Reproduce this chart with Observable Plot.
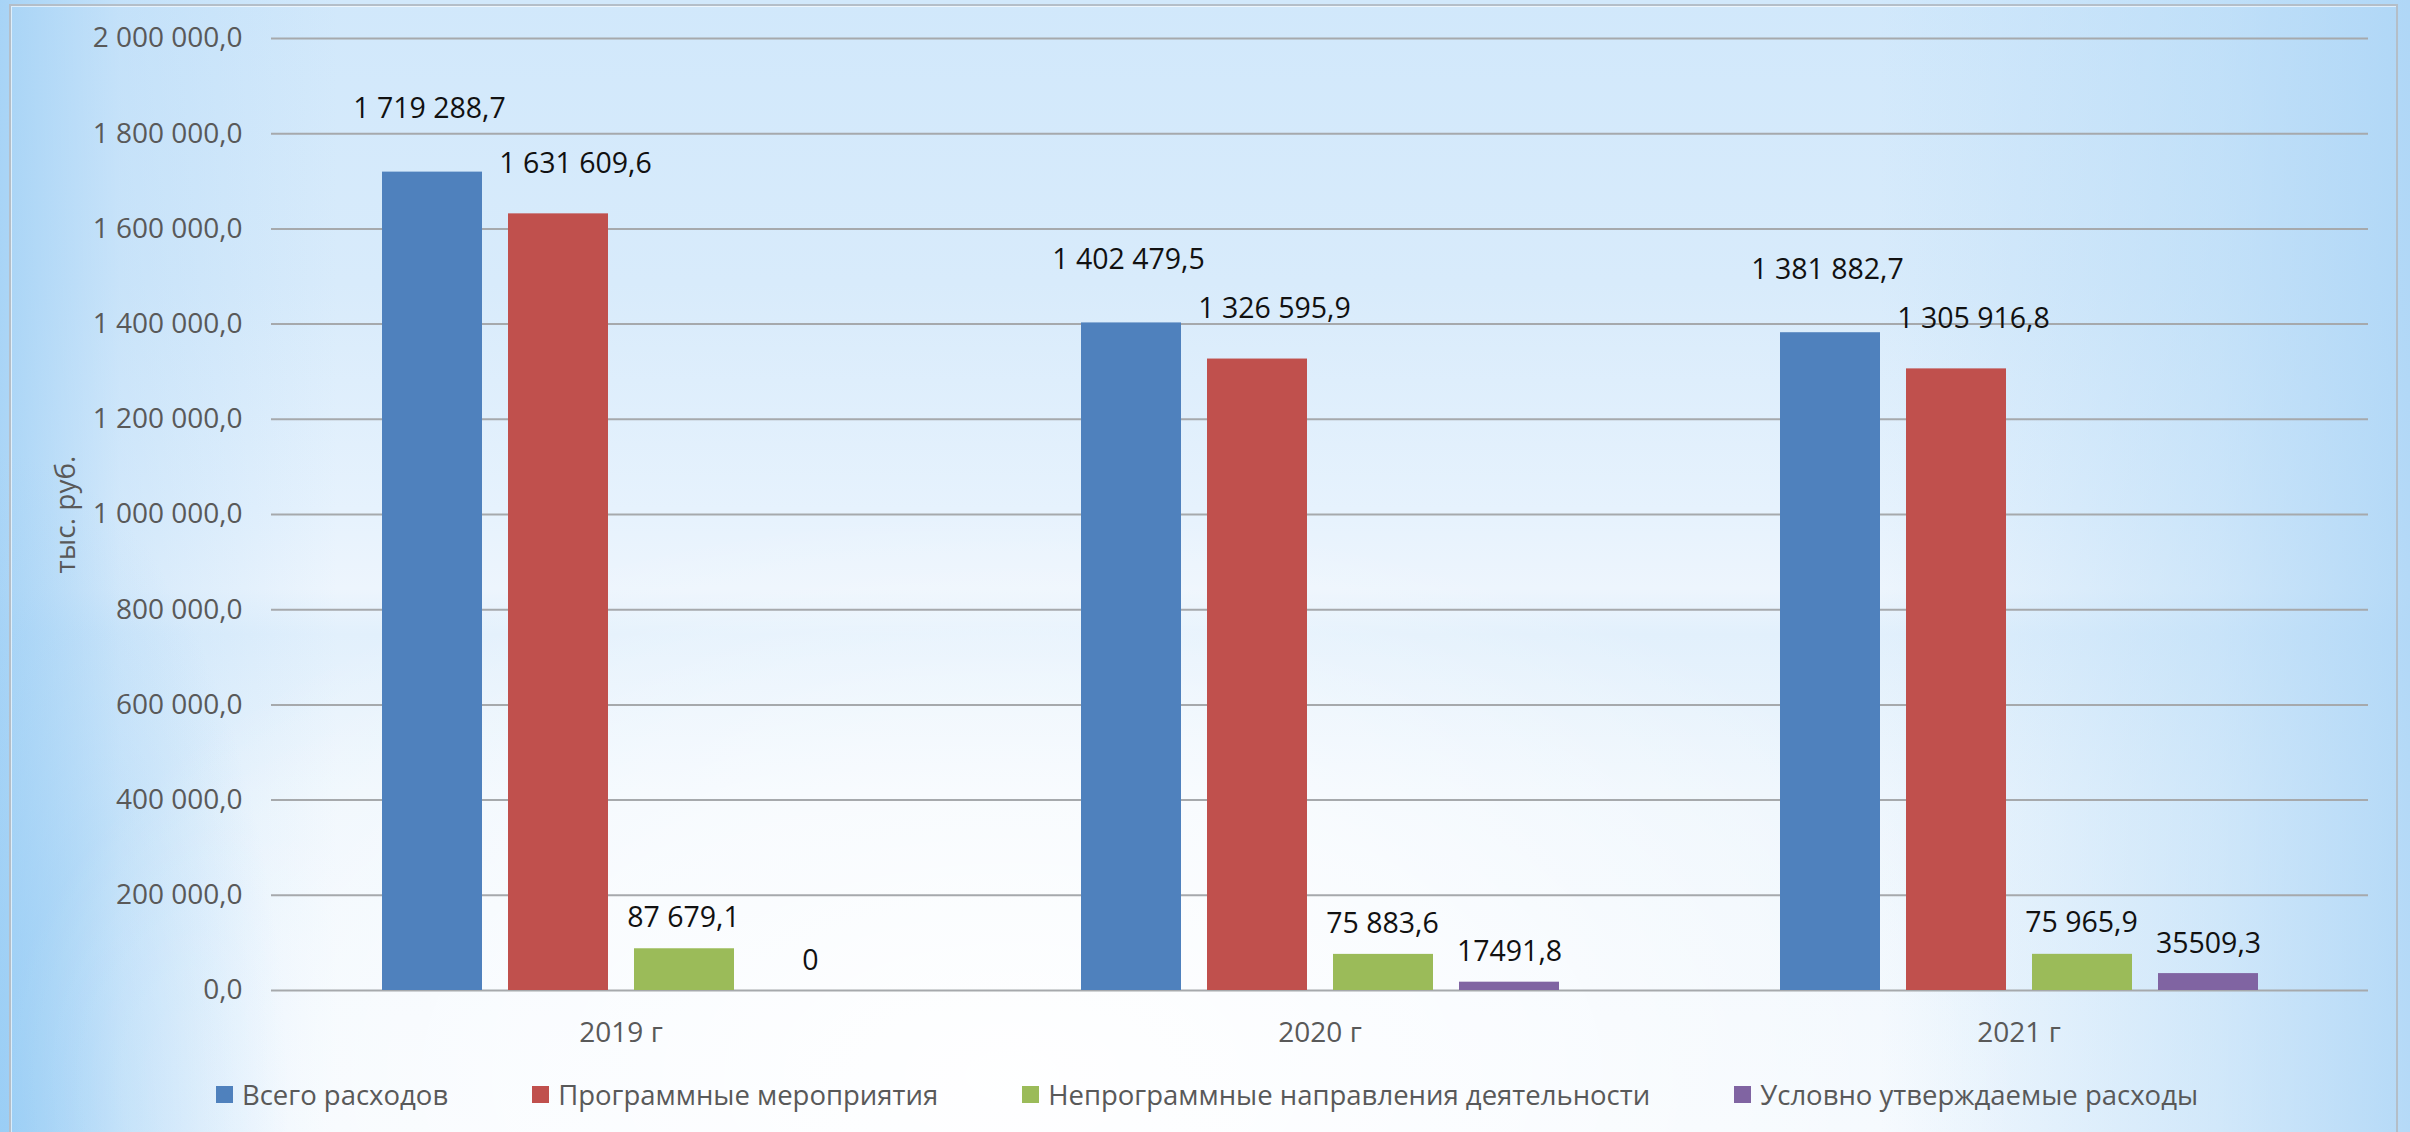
<!DOCTYPE html>
<html>
<head>
<meta charset="utf-8">
<script src="https://cdn.jsdelivr.net/npm/d3@7"></script>
<script src="https://cdn.jsdelivr.net/npm/@observablehq/plot@0.6"></script>
<style>
html, body { margin: 0; padding: 0; }
body {
  width: 2410px; height: 1132px; overflow: hidden; position: relative;
  background:
    radial-gradient(ellipse 42% 50% at 42% 95%, rgba(255,255,255,0.95) 0%, rgba(255,255,255,0.6) 50%, rgba(255,255,255,0) 100%),
    radial-gradient(ellipse 12% 60% at 0% 100%, rgba(150,204,245,0.8) 0%, rgba(150,204,245,0) 100%),
    linear-gradient(to right, rgba(160,208,245,0.85) 0%, rgba(170,212,246,0.35) 5%, rgba(170,212,246,0) 14%, rgba(170,212,246,0) 78%, rgba(175,215,246,0.5) 92%, rgba(170,212,246,0.85) 100%),
    linear-gradient(to bottom, #d1e8fb 0%, #d8ebfb 25%, #e6f2fd 45%, #edf5fd 52%, #e2f0fc 56%, #eef6fd 70%, #f4f9fe 100%);
}
#frame { position: absolute; left: 9px; top: 4px; width: 2385px; height: 1200px;
  border: 2px solid #b4bec8; box-shadow: inset 1px 1px 0 rgba(255,255,255,0.6); pointer-events: none; }
#chart { position: absolute; left: 0; top: 0; }
#legend { position: absolute; left: 0; top: 1076px; width: 2410px; display: flex; justify-content: center; }
#legend .lg-swatches { font-family: "Open Sans", sans-serif; font-size: 27.5px; color: #595959; margin: 0 0 0 4px; }
#legend .lg-swatch { margin-right: 84px; }
#legend .lg-swatch:last-child { margin-right: 0; }
#legend .lg-swatch > svg { margin-right: 9px; }
</style>
</head>
<body>
<div id="frame"></div>
<div id="chart"></div>
<div id="legend"></div>
<script>
// ---- data ----
const years = ["2019 г", "2020 г", "2021 г"];
const seriesNames = [
  "Всего расходов",
  "Программные мероприятия",
  "Непрограммные направления деятельности",
  "Условно утверждаемые расходы"
];
const totalExpenses       = [1719288.7, 1402479.5, 1381882.7];
const programExpenses     = [1631609.6, 1326595.9, 1305916.8];
const nonProgramExpenses  = [87679.1, 75883.6, 75965.9];
const conditionalExpenses = [0, 17491.8, 35509.3];
const seriesColors = ["#4f81bd", "#c0504d", "#9bbb59", "#8064a2"];
const yTicks = [0, 200000, 400000, 600000, 800000, 1000000, 1200000, 1400000, 1600000, 1800000, 2000000];
const yTitle = "тыс. руб.";

// ---- table ----
const seriesValues = [totalExpenses, programExpenses, nonProgramExpenses, conditionalExpenses];
const rows = [];
years.forEach((year, i) => {
  seriesNames.forEach((series, k) => {
    rows.push({year, series, k, value: seriesValues[k][i]});
  });
});

const ru = d3.formatLocale({decimal: ",", thousands: " ", grouping: [3], currency: ["", ""]});
const fmtGrouped = ru.format(",.1f");
const fmtPlain = ru.format(".1f");
const labelText = d => d.k === 3 ? (d.value === 0 ? "0" : fmtPlain(d.value)) : fmtGrouped(d.value);

// per-series label placement (style)
const labelShift = [
  {dx: -3, dy: -63},
  {dx: 17, dy: -50},
  {dx: -1, dy: -31},
  {dx: 0, dy: -30}
];

const font = "'Open Sans', sans-serif";

const chart = Plot.plot({
  width: 2410,
  height: 1060,
  marginLeft: 271,
  marginRight: 42,
  marginTop: 38,
  marginBottom: 70,
  style: {background: "transparent", fontFamily: font, fontSize: "28px", color: "#595959", overflow: "visible"},
  fx: {domain: years, padding: 0, label: null, axis: null},
  x: {domain: seriesNames, paddingInner: 0.21, paddingOuter: 0.868, axis: null},
  y: {domain: [0, 2000000], label: null},
  color: {domain: seriesNames, range: seriesColors},
  marks: [
    Plot.gridY(yTicks, {stroke: "#a6a9ac", strokeOpacity: 1, strokeWidth: 2}),
    Plot.axisY(yTicks, {
      tickSize: 0, tickPadding: 29, tickFormat: fmtGrouped,
      label: yTitle, labelAnchor: "center", labelOffset: 216, labelArrow: "none"
    }),
    Plot.axisFx({anchor: "bottom", tickSize: 0, tickPadding: 32, label: null}),
    Plot.barY(rows, {fx: "year", x: "series", y: "value", fill: "series"}),
    ...seriesNames.map((s, k) => Plot.text(rows, {
      filter: d => d.k === k,
      fx: "year", x: "series", y: "value",
      text: labelText,
      dx: labelShift[k].dx, dy: labelShift[k].dy,
      fill: "#111", fontSize: 28.5
    }))
  ]
});
document.getElementById("chart").appendChild(chart);

const legend = Plot.legend({
  color: {domain: seriesNames, range: seriesColors},
  legend: "swatches",
  swatchSize: 17,
  className: "lg"
});
document.getElementById("legend").appendChild(legend);
</script>
</body>
</html>
